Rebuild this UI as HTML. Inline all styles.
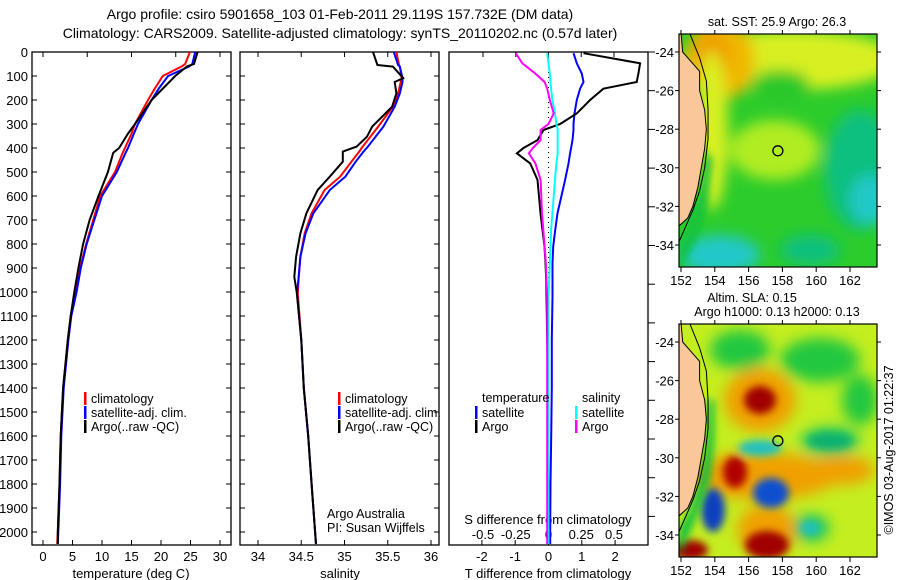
<!DOCTYPE html>
<html><head><meta charset="utf-8">
<style>
html,body{margin:0;padding:0;background:#fff;}
svg{display:block;font-family:"Liberation Sans",sans-serif;}
</style></head>
<body>
<svg id="chart" width="900" height="580" viewBox="0 0 900 580" xmlns="http://www.w3.org/2000/svg">
<defs>
<clipPath id="c1"><rect x="32" y="52" width="199" height="493"/></clipPath>
<clipPath id="c2"><rect x="240" y="52" width="199" height="493"/></clipPath>
<clipPath id="c3"><rect x="449" y="52" width="199" height="493"/></clipPath>
<clipPath id="m1"><rect x="679" y="34" width="198" height="233"/></clipPath>
<clipPath id="m2"><rect x="679" y="324" width="198" height="233"/></clipPath>
<filter id="bl" x="-50%" y="-50%" width="200%" height="200%"><feGaussianBlur stdDeviation="7"/></filter>
<filter id="bl2" x="-50%" y="-50%" width="200%" height="200%"><feGaussianBlur stdDeviation="4"/></filter>
</defs>
<text x="340" y="19" font-size="14" text-anchor="middle">Argo profile: csiro 5901658_103 01-Feb-2011 29.119S 157.732E (DM data)</text>
<text x="340" y="38" font-size="14" text-anchor="middle">Climatology: CARS2009. Satellite-adjusted climatology: synTS_20110202.nc (0.57d later)</text>

<g>
<g clip-path="url(#m1)">
<rect x="679" y="34" width="198" height="233" fill="#2ccc2c"/>
<g filter="url(#bl)">
<ellipse cx="790" cy="60" rx="110" ry="30" fill="#d8f020"/>
<ellipse cx="720" cy="60" rx="35" ry="40" fill="#f0b800"/>
<ellipse cx="712" cy="55" rx="18" ry="22" fill="#f09a00"/>
<ellipse cx="712" cy="130" rx="16" ry="80" fill="#d8f020"/>
<ellipse cx="775" cy="150" rx="45" ry="30" fill="#b0ec20"/>
<ellipse cx="780" cy="85" rx="30" ry="15" fill="#2cc82c"/>
<ellipse cx="860" cy="170" rx="35" ry="60" fill="#10c080"/>
<ellipse cx="870" cy="200" rx="20" ry="25" fill="#20c8c8"/>
<ellipse cx="720" cy="255" rx="40" ry="20" fill="#20c8c8"/>
<ellipse cx="810" cy="250" rx="30" ry="15" fill="#10c080"/>
</g>
<polygon points="705,150 700,190 690,230 679,250 679,270 695,240 707,200 712,160" fill="#10c040" filter="url(#bl2)"/>
</g>
</g>
<g>
<g clip-path="url(#m2)">
<rect x="679" y="324" width="198" height="233" fill="#c4ee20"/>
<g filter="url(#bl)">
<ellipse cx="740" cy="350" rx="30" ry="20" fill="#20c840"/>
<ellipse cx="820" cy="360" rx="40" ry="22" fill="#20c840"/>
<ellipse cx="860" cy="400" rx="18" ry="25" fill="#20c840"/>
<ellipse cx="760" cy="400" rx="36" ry="32" fill="#f0a000"/>
<ellipse cx="762" cy="476" rx="75" ry="24" fill="#f0a000"/>
<ellipse cx="840" cy="470" rx="35" ry="15" fill="#f0a000"/>
<ellipse cx="830" cy="441" rx="30" ry="14" fill="#20c860"/>
<ellipse cx="810" cy="528" rx="20" ry="14" fill="#20c860"/>
<ellipse cx="767" cy="530" rx="30" ry="25" fill="#f0a000"/>
</g>
<g filter="url(#bl2)">
<ellipse cx="760" cy="400" rx="16" ry="14" fill="#a00000"/>
<ellipse cx="735" cy="472" rx="12" ry="16" fill="#b00000"/>
<ellipse cx="760" cy="448" rx="22" ry="8" fill="#20c0c0"/>
<ellipse cx="771" cy="493" rx="18" ry="15" fill="#1050d0"/>
<ellipse cx="713" cy="510" rx="12" ry="22" fill="#1040c0"/>
<ellipse cx="767" cy="545" rx="22" ry="14" fill="#a00000"/>
<ellipse cx="690" cy="550" rx="18" ry="10" fill="#a00000"/>
<ellipse cx="810" cy="528" rx="10" ry="7" fill="#20c0c0"/>
<ellipse cx="830" cy="441" rx="22" ry="8" fill="#10b070"/>
</g>
<polygon points="708,400 706,440 700,480 690,510 679,530 679,557 695,520 710,480 714,440 714,400" fill="#10c040" filter="url(#bl2)"/>
</g>
</g>
<g id="maplayers"></g>

<g id="plots"></g>
</svg>
<script>
const tDepth = [0,50,60,100,150,200,300,340,400,420,500,600,700,800,900,1000,1100,1200,1400,1600,1800,2000,2050];
const tClim = [24.9,24.1,23.5,20.3,19.0,17.8,15.6,15.0,13.9,13.5,12.2,9.7,8.5,7.3,6.3,5.6,4.7,4.2,3.4,3.0,2.8,2.5,2.4];
const tSat = [25.8,25.3,24.8,21.2,19.7,18.4,16.1,15.4,14.4,14.0,12.5,10.0,8.7,7.4,6.4,5.7,4.8,4.3,3.5,3.1,2.9,2.6,2.5];
const tArgo = [26.2,25.6,24.4,22.4,20.4,18.4,15.6,14.4,12.9,11.9,11.0,9.4,7.9,6.8,6.0,5.3,4.7,4.2,3.4,3.0,2.8,2.5,2.5];

const sDepth = [0,54,61,109,125,172,228,311,353,394,415,457,519,575,672,755,853,937,1006,1200,1400,1600,1800,2000,2050];
const sClim = [35.60,35.63,35.64,35.66,35.65,35.62,35.56,35.39,35.30,35.21,35.17,35.08,34.95,34.77,34.62,34.54,34.49,34.47,34.46,34.50,34.53,34.58,34.62,34.66,34.67];
const sSat = [35.57,35.62,35.64,35.67,35.67,35.64,35.58,35.45,35.36,35.27,35.22,35.13,35.01,34.83,34.64,34.55,34.49,34.47,34.45,34.50,34.53,34.58,34.62,34.66,34.67];
const sArgo = [35.33,35.38,35.56,35.68,35.58,35.60,35.55,35.32,35.26,35.14,34.98,34.98,34.83,34.69,34.56,34.49,34.44,34.42,34.45,34.50,34.53,34.58,34.62,34.66,34.67];

const dDepth = [5,47,90,125,153,200,256,300,325,367,400,422,464,533,672,742,811,880,950,1019,1200,1400,1600,1800,2000,2050];
const dTArgo = [1.05,2.75,2.7,2.65,1.65,1.25,0.85,0.35,-0.15,-0.33,-0.75,-0.95,-0.55,-0.33,-0.24,-0.18,-0.12,-0.09,-0.07,-0.06,-0.04,-0.02,0.0,-0.01,0,0];
const dTSat = [0.75,0.85,1.0,1.05,0.95,0.85,0.78,0.75,0.75,0.72,0.68,0.65,0.6,0.5,0.27,0.2,0.14,0.12,0.12,0.12,0.1,0.1,0.08,0.06,0.05,0.05];
const dSSat = [-0.01,0,0.01,0.015,0.02,0.03,0.05,0.06,0.07,0.07,0.07,0.07,0.06,0.05,0.03,0.02,0.015,0.01,0.005,0,0,0,0,0,0,0];
const dSArgo = [-0.25,-0.2,-0.1,-0.03,-0.01,0.01,0.04,0.0,-0.06,-0.06,-0.12,-0.15,-0.1,-0.06,-0.05,-0.04,-0.03,-0.02,-0.015,-0.01,-0.01,-0.01,-0.01,-0.01,-0.01,-0.01];

const depthTicks = [0,100,200,300,400,500,600,700,800,900,1000,1100,1200,1300,1400,1500,1600,1700,1800,1900,2000];
const tTicks = [0,5,10,15,20,25,30];
const sTicks = [34,34.5,35,35.5,36];
const sTickLabels = ['34','34.5','35','35.5','36'];
const dTTicks = [-2,-1,0,1,2];
const dSTicks = [-0.5,-0.25,0,0.25,0.5];
const dSTickLabels = ['-0.5','-0.25','0','0.25','0.5'];
const lonTicks = [152,154,156,158,160,162];
const latTicks = [-24,-26,-28,-30,-32,-34];
const argoLon = 157.732, argoLat = -29.119;

const NS='http://www.w3.org/2000/svg';
const yD = d => 52 + d*0.24;
const xT = t => 43 + t*5.9;
const xS = s => 258 + (s-34)*86.5;
const xDT = v => 548.5 + v*33.3;
const xDS = v => 548.5 + v*131;
const mx = lon => 681 + (lon-152)*16.9;
const my = (lat,off) => off + 52 + (-24-lat)*19.3;

const plots = document.getElementById('plots');
function el(tag, attrs, parent){
  const e=document.createElementNS(NS,tag);
  for(const k in attrs) e.setAttribute(k,attrs[k]);
  (parent||plots).appendChild(e); return e;
}
function txt(x,y,s,anchor,size,parent){
  const t=el('text',{x:x,y:y,'font-size':size||12,'text-anchor':anchor||'start'},parent);
  t.textContent=s; return t;
}
function line(xs, depths, vals, color, clip, name, width){
  const pts = vals.map((v,i)=>xs(v).toFixed(1)+','+yD(depths[i]).toFixed(1)).join(' ');
  const p = el('polyline',{points:pts,fill:'none',stroke:color,'stroke-width':width||2,'clip-path':'url(#'+clip+')'});
  
  
}
function panel(x0, name){
  const r=el('rect',{x:x0,y:52,width:199,height:493,fill:'none',stroke:'#000','stroke-width':1.3});
  
  
  depthTicks.forEach(d=>{
    el('line',{x1:x0,x2:x0+5,y1:yD(d),y2:yD(d),stroke:'#000'});
    el('line',{x1:x0+199,x2:x0+194,y1:yD(d),y2:yD(d),stroke:'#000'});
  });
}
panel(32,'temperature-panel');
depthTicks.forEach(d=>{ const t=txt(28,yD(d)+5,String(d),'end',13);   });
tTicks.forEach((v,i)=>{
  el('line',{x1:xT(v),x2:xT(v),y1:545,y2:540,stroke:'#000'});
  const t=txt(xT(v),561,String(v),'middle',13);
  
  
});
[0,7.5,15,22.5,30].forEach(v=>el('line',{x1:xT(v),x2:xT(v),y1:52,y2:57,stroke:'#000'}));
let t1=txt(131,578,'temperature (deg C)','middle',13);  
line(xT,tDepth,tClim,'#f00','c1','climatology-temperature-line');
line(xT,tDepth,tSat,'#00f','c1','satellite-temperature-line');
line(xT,tDepth,tArgo,'#000','c1','argo-temperature-line');
function legend(x,y,items,name){
  const g=el('g',{});
  
  
  items.forEach((it,i)=>{
    el('rect',{x:x,y:y+i*14-6,width:2.5,height:13,fill:it[0]},g);
    txt(x+7,y+i*14+5,it[1],'start',12.5,g);
  });
}
legend(84,398,[['#f00','climatology'],['#00f','satellite-adj. clim.'],['#000','Argo(..raw -QC)']],'temperature-legend');

panel(240,'salinity-panel');
sTicks.forEach((v,i)=>{
  el('line',{x1:xS(v),x2:xS(v),y1:545,y2:540,stroke:'#000'});
  el('line',{x1:xS(v),x2:xS(v),y1:52,y2:57,stroke:'#000'});
  const t=txt(xS(v),561,sTickLabels[i],'middle',13);
  
  
});
let t2=txt(340,578,'salinity','middle',13);  
line(xS,sDepth,sClim,'#f00','c2','climatology-salinity-line');
line(xS,sDepth,sSat,'#00f','c2','satellite-salinity-line');
line(xS,sDepth,sArgo,'#000','c2','argo-salinity-line');
legend(338,398,[['#f00','climatology'],['#00f','satellite-adj. clim.'],['#000','Argo(..raw -QC)']],'salinity-legend');
let pa=txt(327,518,'Argo Australia','start',12.5);  
let pb=txt(327,532,'PI: Susan Wijffels','start',12.5);  

const r3=el('rect',{x:449,y:52,width:199,height:493,fill:'none',stroke:'#000','stroke-width':1.3});


for(let i=0;i<13;i++){ const y=52+i*38.7; if(y<=545) el('line',{x1:648,x2:655,y1:y,y2:y,stroke:'#000'}); }
dTTicks.forEach(v=>{
  el('line',{x1:xDT(v),x2:xDT(v),y1:545,y2:540,stroke:'#000'});
  const t=txt(xDT(v),561,String(v),'middle',13);
  
  
});
dSTicks.forEach((v,i)=>{
  el('line',{x1:xDS(v),x2:xDS(v),y1:52,y2:57,stroke:'#000'});
  const t=txt(xDS(v),539,dSTickLabels[i],'middle',13);
  
  
});
let t3=txt(548,578,'T difference from climatology','middle',13);  
let t4=txt(548,524,'S difference from climatology','middle',13);  
el('line',{x1:548.5,x2:548.5,y1:52,y2:545,stroke:'#000','stroke-dasharray':'1,4','stroke-width':1});
line(xDT,dDepth,dTSat,'#00f','c3','satellite-t-diff-line');
line(xDT,dDepth,dTArgo,'#000','c3','argo-t-diff-line');
line(xDS,dDepth,dSSat,'#0ff','c3','satellite-s-diff-line');
line(xDS,dDepth,dSArgo,'#f0f','c3','argo-s-diff-line');
let lt=txt(482,402,'temperature','start',12.5);  
let ls=txt(582,402,'salinity','start',12.5);  
legend(475,412,[['#00f','satellite'],['#000','Argo']],'t-diff-legend');
legend(575,412,[['#0ff','satellite'],['#f0f','Argo']],'s-diff-legend');

const ml=document.getElementById('maplayers');
const coast=[[152,-23],[152.1,-24],[152.6,-24.5],[153.1,-25],[153.1,-26],[153.4,-27],[153.5,-28],[153.4,-29],[153.2,-30],[153.0,-31],[152.7,-32],[152.4,-32.6],[151.9,-33]];
const shelf=[[152.5,-23],[153.1,-24.3],[153.5,-25.5],[153.6,-27],[153.6,-28.5],[153.4,-30],[153.1,-31.2],[152.7,-32.2],[152.2,-33.2],[151.9,-33.8]];
function map(off,name){
  const g=el('g',{},ml);
  
  
  const clip='url(#m'+(off?2:1)+')';
  const land=coast.map(p=>mx(p[0]).toFixed(1)+','+my(p[1],off).toFixed(1)).join(' ')+' 679,'+my(-33,off)+' 679,'+(off+34);
  el('polygon',{points:land,fill:'#fac898','clip-path':clip},g);
  el('polyline',{points:coast.map(p=>mx(p[0])+','+my(p[1],off)).join(' '),fill:'none',stroke:'#000','stroke-width':1,'clip-path':clip},g);
  el('polyline',{points:shelf.map(p=>mx(p[0])+','+my(p[1],off)).join(' '),fill:'none',stroke:'#000','stroke-width':1,'clip-path':clip},g);
  el('rect',{x:679,y:off+34,width:198,height:233,fill:'none',stroke:'#000','stroke-width':1.2},g);
  const c=el('circle',{cx:mx(argoLon),cy:my(argoLat,off),r:5,fill:'none',stroke:'#000','stroke-width':1.3},g);
  
  
  lonTicks.forEach(v=>{
    el('line',{x1:mx(v),x2:mx(v),y1:off+267,y2:off+272,stroke:'#000'},g);
    el('line',{x1:mx(v),x2:mx(v),y1:off+34,y2:off+30,stroke:'#000'},g);
    const t=txt(mx(v),off+285,String(v),'middle',13,g);
    
    
  });
  latTicks.forEach(v=>{
    el('line',{x1:679,x2:675,y1:my(v,off),y2:my(v,off),stroke:'#000'},g);
    el('line',{x1:877,x2:881,y1:my(v,off),y2:my(v,off),stroke:'#000'},g);
    const t=txt(674,my(v,off)+5,String(v),'end',13,g);
    
    
  });
}
map(0,'sst-map');
map(290,'sla-map');
let m1=txt(777,26,'sat. SST: 25.9 Argo: 26.3','middle',12.5,ml);  
let m2=txt(752,302,'Altim. SLA: 0.15','middle',12.5,ml);  
let m3=txt(777,316,'Argo h1000: 0.13 h2000: 0.13','middle',12.5,ml);  
let cr=txt(0,0,'©IMOS 03-Aug-2017 01:22:37','middle',12.5,ml);
cr.setAttribute('transform','translate(893,450) rotate(-90)');


</script>
</body></html>
